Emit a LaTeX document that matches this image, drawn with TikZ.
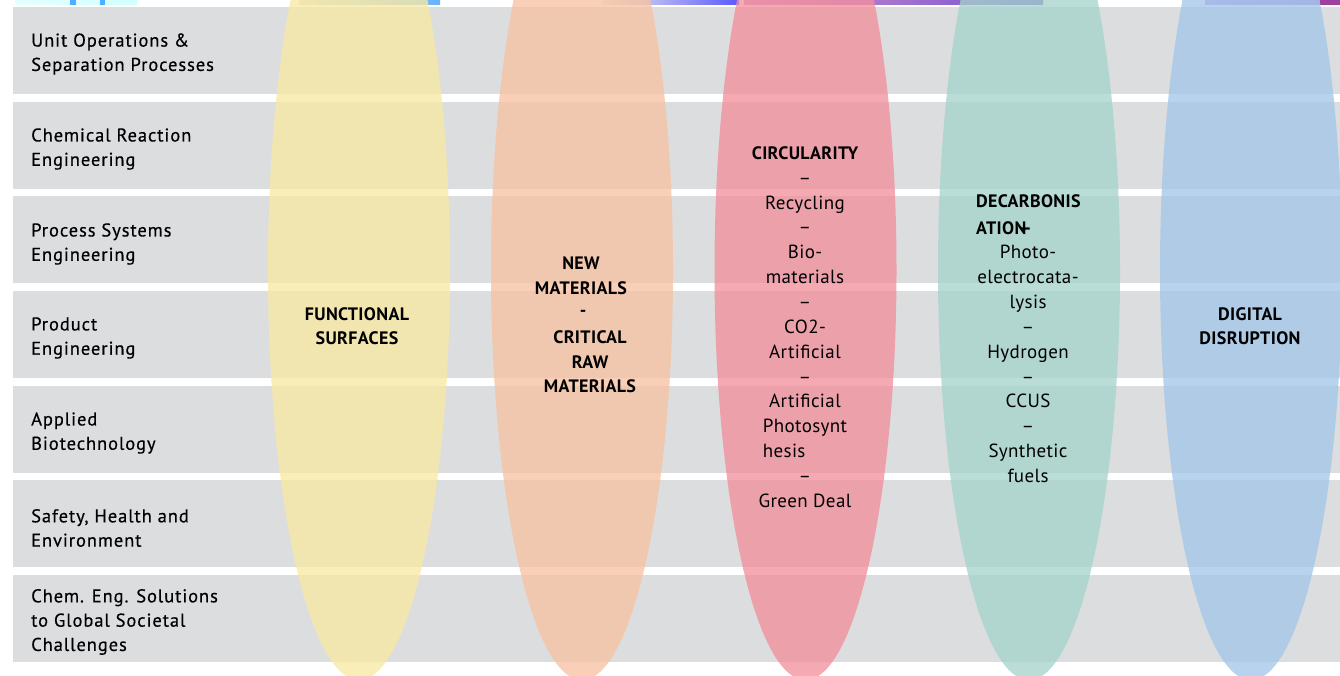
\documentclass[tikz,border=0pt]{standalone}
\usepackage{fontspec}
\setmainfont{PT Sans}
\definecolor{rowgray}{HTML}{DCDDDF}
\definecolor{cyel}{HTML}{F9E9A3}
\definecolor{cora}{HTML}{F7C2A1}
\definecolor{cpink}{HTML}{F28F9B}
\definecolor{cteal}{HTML}{A5D4CB}
\definecolor{cblue}{HTML}{A2C6E9}
\newcommand\labfont{\fontsize{18.5}{24.3}\selectfont\addfontfeatures{LetterSpace=5,FakeBold=0.4}}
\newcommand\elfont{\fontsize{19}{24.85}\selectfont\addfontfeatures{LetterSpace=2}}
\newcommand\hdfont{\fontsize{18}{24.5}\selectfont\bfseries\addfontfeatures{LetterSpace=2}}
\begin{document}
\begin{tikzpicture}[x=1pt,y=-1pt,
  lab/.style={anchor=west,align=left,font=\labfont,inner sep=0pt},
  eltext/.style={align=center,font=\elfont,inner sep=0pt},
  head/.style={align=center,font=\hdfont,inner sep=0pt},
  oval/.style={opacity=.77}]
\useasboundingbox (0,0) rectangle (1340,676);
% top image fragments
\fill[left color=cyan!10, right color=cyan!18] (15,0) rectangle (137,5);
\fill[blue!45!cyan!70] (70,0) rectangle (76,5);
\fill[blue!45!cyan!70] (100,0) rectangle (105,5);
\fill[left color=green!10!gray!30, right color=blue!50!cyan!60] (299,0) rectangle (440,5);
\fill[left color=gray!15, right color=blue!65] (603,0) rectangle (739,5);
\fill[left color=violet!40, right color=blue!50!violet!70] (744,0) rectangle (1043,5);
\fill[left color=blue!35!violet!40, right color=blue!40!violet!50] (1205,0) rectangle (1320,5);
\fill[violet!75] (1320,0) rectangle (1340,5);
% rows
\foreach \t in {7,102,196,291,386,480,575}
  \fill[rowgray] (13,\t) rectangle (1340,\t+87);
% ovals
\fill[cyel,oval] (359,270) ellipse [x radius=91pt, y radius=410pt];
\fill[cora,oval] (582,270) ellipse [x radius=91pt, y radius=410pt];
\fill[cpink,oval] (805.5,270) ellipse [x radius=91pt, y radius=410pt];
\fill[cteal,oval] (1029,270) ellipse [x radius=91pt, y radius=410pt];
\fill[cblue,oval] (1251,270) ellipse [x radius=91pt, y radius=410pt];
% row labels
\node[lab] (r1) at (31,54) {Unit Operations \&\\Separation Processes};
\node[lab] (r2) at (31,149) {Chemical Reaction\\Engineering};
\node[lab] (r3) at (31,244) {Process Systems\\Engineering};
\node[lab] (r4) at (31,338) {Product\\Engineering};
\node[lab] (r5) at (31,433) {Applied\\Biotechnology};
\node[lab] (r6) at (31,528) {Safety, Health and\\Environment};
\node[lab] (r7) at (31,622) {Chem. Eng. Solutions\\to Global Societal\\Challenges};
% oval texts
\node[head] (fs) at (357,326) {FUNCTIONAL\\SURFACES};
\node[head] (nm) at (581,276) {NEW\\MATERIALS};
\node[head] (nmd) at (583,313) {-};
\node[head] (cr) at (590,362) {CRITICAL\\RAW\\MATERIALS};
\node[eltext] (circ) at (805,327) {{\hdfont CIRCULARITY}\\–\\Recycling\\–\\Bio-\\materials\\–\\CO2-\\Artificial\\–\\Artificial\\Photosynt\\\rlap{hesis}\phantom{Photosynt}\\–\\Green Deal};
\node[head,align=left,anchor=west,font=\hdfont\fontsize{18}{27}\selectfont] (dec) at (976,215) {DECARBONIS\\ATION\kern-7pt{\elfont –}};
\node[eltext] (decl) at (1028,364) {Photo-\\electrocata-\\lysis\\–\\Hydrogen\\–\\CCUS\\–\\Synthetic\\fuels};
\node[head] (dig) at (1250,326) {DIGITAL\\DISRUPTION};
\end{tikzpicture}
\end{document}
